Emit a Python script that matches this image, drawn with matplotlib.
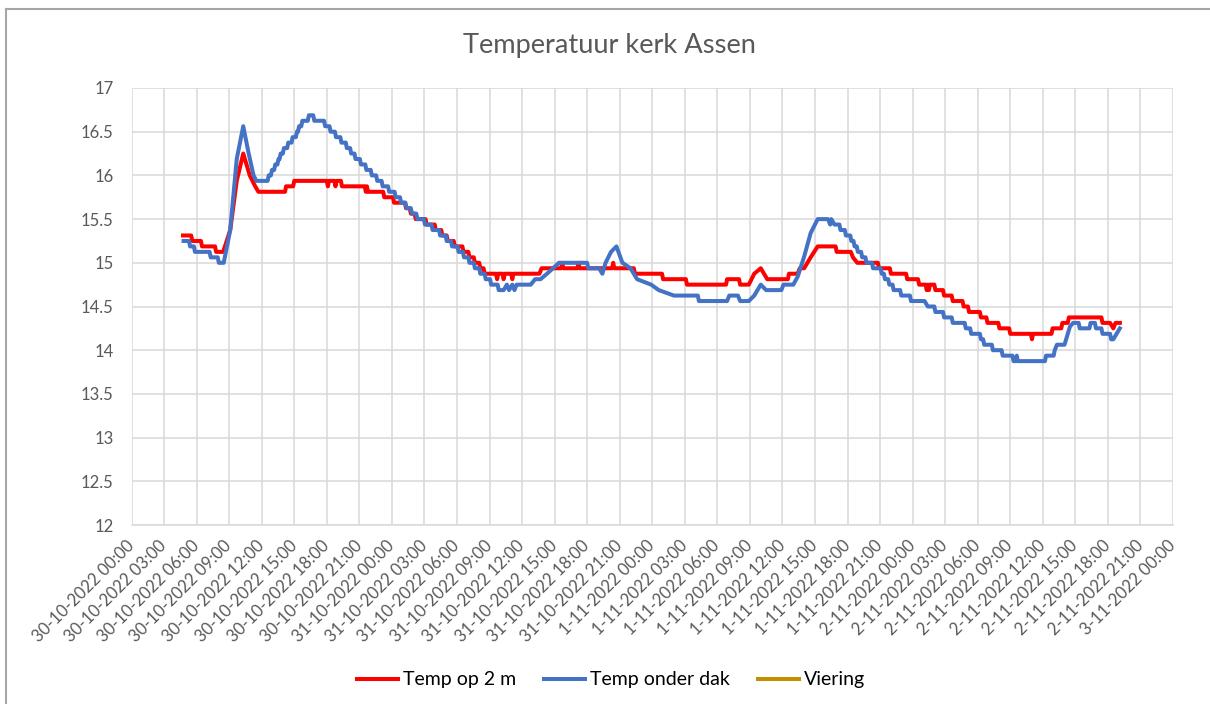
import numpy as np
import matplotlib
matplotlib.use("Agg")
import matplotlib.pyplot as plt
from matplotlib.lines import Line2D
from datetime import datetime, timedelta

plt.rcParams['font.family'] = ['Lato', 'DejaVu Sans']

# uren sinds 30-10-2022 00:00
uren_rood = [4.75, 5.5, 5.6, 6.4, 6.5, 7.7, 7.8, 8.45, 9.1, 9.7, 10.3, 10.9, 11.4, 11.7,
             14.15, 14.25, 14.9, 15.0, 18.0, 18.1, 18.2, 18.7, 18.8, 18.9, 19.3, 19.4,
             21.5, 21.6, 21.7, 21.8, 23.2,
             23.3, 24.1, 24.2, 25.2, 25.3, 25.65, 25.75, 26.1, 26.2, 27.1, 27.2, 27.95,
             28.05, 28.55, 28.65, 29.05, 29.15, 29.7, 29.8, 30.5, 30.6, 31.05, 31.15,
             31.55, 31.65, 32.05, 32.15, 32.45, 32.55,
             33.6, 33.7, 33.8, 34.2, 34.3, 34.4, 35.0, 35.1, 35.2, 37.6, 37.8,
             39.6, 39.7, 39.8, 41.1, 41.2, 41.3, 44.3, 44.4, 44.5, 46.3, 46.4,
             48.9, 49.0, 51.1, 51.2, 54.8, 54.9, 56.0, 56.1, 56.9, 57.4, 58.0, 58.3, 58.6,
             60.5, 60.6, 61.4, 61.6, 62.0, 62.6, 63.25, 64.9, 65.0, 66.3, 66.5, 66.9,
             68.8, 68.9, 69.9, 70.0, 71.4, 71.5, 72.5, 72.6, 73.2, 73.3, 73.4, 73.5, 73.6,
             74.0, 74.1, 74.8, 74.9, 75.6, 75.7, 76.6, 76.7, 77.1, 77.2, 78.2, 78.3,
             78.8, 78.9, 79.9, 80.0, 80.9, 81.0, 82.9, 83.0, 83.1, 84.8, 84.9, 85.7, 85.8,
             86.3, 86.4, 89.4, 89.5, 90.2, 90.5, 90.7, 91.1]
temp_rood = [15.3125, 15.3125, 15.25, 15.25, 15.1875, 15.1875, 15.125, 15.125, 15.375,
             15.9375, 16.25, 16.0, 15.875, 15.8125,
             15.8125, 15.875, 15.875, 15.9375, 15.9375, 15.875, 15.9375, 15.9375, 15.875,
             15.9375, 15.9375, 15.875,
             15.875, 15.8125, 15.875, 15.8125, 15.8125,
             15.75, 15.75, 15.6875, 15.6875, 15.625, 15.625, 15.5625, 15.5625, 15.5, 15.5,
             15.4375, 15.4375, 15.375, 15.375, 15.3125, 15.3125, 15.25, 15.25, 15.1875,
             15.1875, 15.125, 15.125, 15.0625, 15.0625, 15.0, 15.0, 14.9375, 14.9375,
             14.875,
             14.875, 14.8125, 14.875, 14.875, 14.8125, 14.875, 14.875, 14.8125, 14.875,
             14.875, 14.9375,
             14.9375, 15.0, 14.9375, 14.9375, 15.0, 14.9375, 14.9375, 15.0, 14.9375,
             14.9375, 14.875,
             14.875, 14.8125, 14.8125, 14.75, 14.75, 14.8125, 14.8125, 14.75, 14.75,
             14.875, 14.9375, 14.875, 14.8125,
             14.8125, 14.875, 14.875, 14.9375, 14.9375, 15.0625, 15.1875, 15.1875, 15.125,
             15.125, 15.0625, 15.0,
             15.0, 14.9375, 14.9375, 14.875, 14.875, 14.8125, 14.8125, 14.75, 14.75,
             14.6875, 14.75, 14.6875, 14.75,
             14.75, 14.6875, 14.6875, 14.625, 14.625, 14.5625, 14.5625, 14.5, 14.5,
             14.4375, 14.4375, 14.375,
             14.375, 14.3125, 14.3125, 14.25, 14.25, 14.1875, 14.1875, 14.125, 14.1875,
             14.1875, 14.25, 14.25, 14.3125,
             14.3125, 14.375, 14.375, 14.3125, 14.3125, 14.25, 14.3125, 14.3125]

uren_blauw = [4.8, 5.3, 5.4, 5.75, 5.85, 7.2, 7.3, 7.95, 8.05, 8.5,
              9.1, 9.7, 10.3, 10.8, 11.25, 11.5, 12.4,
              12.55, 12.65, 12.85, 12.95, 13.15, 13.25, 13.45, 13.55, 13.65, 13.75,
              13.95, 14.05, 14.35, 14.45, 14.75, 14.85, 15.15, 15.25, 15.35, 15.45,
              15.65, 15.75, 16.25, 16.35, 16.75, 16.85,
              17.75, 17.85, 18.25, 18.35, 18.75, 18.85, 19.25, 19.35, 19.75, 19.85,
              20.15, 20.25, 20.55, 20.65, 21.05, 21.15, 21.55, 21.65, 22.05, 22.15,
              22.55, 22.65, 23.05, 23.15, 23.65, 23.75, 24.25, 24.35, 24.75, 24.85,
              25.25, 25.35, 25.75, 25.85, 26.25, 26.35, 26.95, 27.05, 27.65, 27.75,
              28.35, 28.45, 28.95, 29.05, 29.45, 29.55, 30.05, 30.15, 30.55, 30.65,
              31.05, 31.15, 31.55, 31.65, 32.05, 32.15, 32.55, 32.65, 33.05, 33.15,
              33.75, 33.85, 34.3,
              34.6, 34.8, 35.1, 35.3, 35.5, 36.8, 37.2, 37.7, 38.3, 39.4, 42.0, 42.1,
              43.1, 43.4, 43.7, 44.2, 44.7, 45.25, 46.0, 46.6, 47.9, 48.6, 50.0, 52.2,
              52.3, 54.9, 55.1, 55.9, 56.1, 56.9, 57.4, 58.0, 58.5, 59.9, 60.1, 61.0,
              61.4, 62.0, 62.6, 63.25, 64.2, 64.4, 64.5, 64.8,
              65.25, 65.35, 65.75, 65.85, 66.25, 66.35, 66.55, 66.65, 66.85, 66.95,
              67.25, 67.35, 67.65, 67.75, 68.25, 68.35, 69.05, 69.15, 69.35, 69.45,
              69.75, 69.85, 70.15, 70.25, 70.85, 70.95, 71.75, 71.85,
              73.1, 73.4, 74.0, 74.1, 74.8, 74.9, 75.6,
              75.7, 76.8, 76.9, 77.3, 77.4, 78.2, 78.3, 78.5, 78.6, 79.3, 79.4, 80.2,
              80.3, 81.2, 81.3, 81.5, 81.6, 81.7, 84.2, 84.3, 85.0, 85.1, 85.3, 86.0,
              86.5, 86.8, 87.3, 87.4, 88.3, 88.4, 88.8, 88.9, 89.4, 89.5, 90.2, 90.3,
              90.5, 91.1]
temp_blauw = [15.25, 15.25, 15.1875, 15.1875, 15.125, 15.125, 15.0625, 15.0625, 15.0, 15.0,
              15.375, 16.1875, 16.5625, 16.25, 16.0, 15.9375, 15.9375,
              15.9375, 16.0, 16.0, 16.0625, 16.0625, 16.125, 16.125, 16.1875, 16.1875, 16.25,
              16.25, 16.3125, 16.3125, 16.375, 16.375, 16.4375, 16.4375, 16.5, 16.5, 16.5625,
              16.5625, 16.625, 16.625, 16.6875, 16.6875, 16.625,
              16.625, 16.5625, 16.5625, 16.5, 16.5, 16.4375, 16.4375, 16.375, 16.375, 16.3125,
              16.3125, 16.25, 16.25, 16.1875, 16.1875, 16.125, 16.125, 16.0625, 16.0625, 16.0,
              16.0, 15.9375, 15.9375, 15.875, 15.875, 15.8125, 15.8125, 15.75, 15.75, 15.6875,
              15.6875, 15.625, 15.625, 15.5625, 15.5625, 15.5, 15.5, 15.4375, 15.4375, 15.375,
              15.375, 15.3125, 15.3125, 15.25, 15.25, 15.1875, 15.1875, 15.125, 15.125, 15.0625,
              15.0625, 15.0, 15.0, 14.9375, 14.9375, 14.875, 14.875, 14.8125, 14.8125, 14.75,
              14.75, 14.6875, 14.6875,
              14.75, 14.6875, 14.75, 14.6875, 14.75, 14.75, 14.8125, 14.8125, 14.875, 15.0,
              15.0, 14.9375,
              14.9375, 14.875, 15.0, 15.125, 15.1875, 15.0, 14.9375, 14.8125, 14.75,
              14.6875, 14.625, 14.625,
              14.5625, 14.5625, 14.625, 14.625, 14.5625, 14.5625, 14.625, 14.75, 14.6875,
              14.6875, 14.75, 14.75,
              14.84, 15.07, 15.34, 15.5, 15.5, 15.4375, 15.5, 15.4375,
              15.4375, 15.375, 15.375, 15.3125, 15.3125, 15.25, 15.25, 15.1875, 15.1875, 15.125,
              15.125, 15.0625, 15.0625, 15.0, 15.0, 14.9375, 14.9375, 14.875, 14.875, 14.8125,
              14.8125, 14.75, 14.75, 14.6875, 14.6875, 14.625, 14.625, 14.5625,
              14.5625, 14.5, 14.5, 14.4375, 14.4375, 14.375, 14.375,
              14.3125, 14.3125, 14.25, 14.25, 14.1875, 14.1875, 14.125, 14.125, 14.0625,
              14.0625, 14.0, 14.0,
              13.9375, 13.9375, 13.875, 13.875, 13.9375, 13.875, 13.875, 13.9375, 13.9375,
              14.0, 14.0625, 14.0625,
              14.27, 14.3125, 14.3125, 14.25, 14.25, 14.3125, 14.3125, 14.25, 14.25,
              14.1875, 14.1875, 14.125,
              14.125, 14.25]

# Viering: geen metingen, alleen in de legenda
uren_viering = []
temp_viering = []

start = datetime(2022, 10, 30)
tick_uren = list(range(0, 97, 3))
tick_labels = []
for u in tick_uren:
    d = start + timedelta(hours=u)
    tick_labels.append(f"{d.day}-{d.month}-{d.year} {d:%H:%M}")

grijs = "#595959"
rooster = "#D9D9D9"

fig = plt.figure(figsize=(12.1, 7.04), dpi=100)
ax = fig.add_axes([131.5 / 1210, 1 - 525 / 704, (1173 - 131.5) / 1210, (525 - 88) / 704])

ax.plot(uren_rood, temp_rood, color="#FF0000", lw=2.9, solid_joinstyle="round",
        label="Temp op 2 m")
ax.plot(uren_blauw, temp_blauw, color="#4472C4", lw=2.9, solid_joinstyle="round",
        label="Temp onder dak")
ax.plot(uren_viering, temp_viering, color="#BF9000", lw=2.9, label="Viering")

ax.set_xlim(0, 96)
ax.set_ylim(12, 17)
ax.set_yticks(np.arange(12, 17.01, 0.5))
ax.set_yticklabels([f"{v:g}" for v in np.arange(12, 17.01, 0.5)])
ax.set_xticks(tick_uren)
ax.set_xticklabels(tick_labels, rotation=45, ha="right", va="center",
                   rotation_mode="anchor")
ax.tick_params(axis="y", length=0, pad=13, labelsize=12, labelcolor=grijs)
ax.tick_params(axis="x", length=0, pad=13, labelsize=12, labelcolor=grijs)
ax.grid(True, color=rooster, lw=1.1)
ax.set_axisbelow(True)
for kant in ["left", "right", "top"]:
    ax.spines[kant].set_visible(False)
ax.spines["bottom"].set_color(rooster)
ax.spines["bottom"].set_linewidth(1.1)

fig.text(0.504, 1 - 45 / 704, "Temperatuur kerk Assen", ha="center", va="center",
         fontsize=19.6, color=grijs)

fig.legend(loc="center", bbox_to_anchor=(0.505, 1 - 680 / 704), ncol=3, frameon=False,
           fontsize=14, handlelength=2.1, handletextpad=0.25, columnspacing=1.45,
           labelcolor="black")

# rand van het grafiekgebied (rechts en onder afgesneden)
fig.add_artist(Line2D([6 / 1210, 6 / 1210], [0, 1 - 9 / 704], transform=fig.transFigure,
                      color="#A6A6A6", lw=1.5))
fig.add_artist(Line2D([6 / 1210, 1], [1 - 9 / 704, 1 - 9 / 704], transform=fig.transFigure,
                      color="#A6A6A6", lw=1.5))

fig.savefig("out.png", dpi=100)
